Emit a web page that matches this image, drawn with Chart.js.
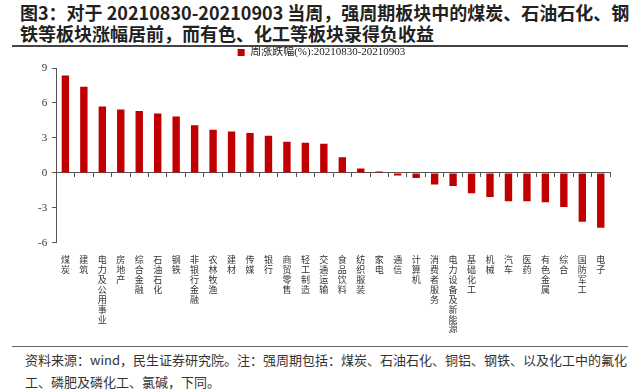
<!DOCTYPE html>
<html>
<head>
<meta charset="utf-8">
<script src="https://cdn.jsdelivr.net/npm/chart.js@4"></script>
<style>
  html, body { margin: 0; padding: 0; background: #fff; }
  body { width: 640px; height: 391px; position: relative; overflow: hidden; font-family: "Noto Sans CJK SC", sans-serif; }
  #title { position: absolute; left: 20px; top: 2px; width: 615px; font-size: 18px; font-weight: bold; line-height: 21px; color: #222; letter-spacing: 0; white-space: nowrap; }
  #topLine { position: absolute; left: 12px; top: 45px; width: 616px; height: 2px; background: #444; }
  #chartBox { position: absolute; left: 0; top: 47px; width: 640px; height: 293px; }
  #bottomLine { position: absolute; left: 12px; top: 346px; width: 616px; height: 1px; background: #666; }
  #note { position: absolute; left: 25px; top: 349px; width: 605px; font-size: 13px; line-height: 22px; color: #333; white-space: nowrap; }
</style>
</head>
<body>
<div id="title">图3：对于 20210830-20210903 当周，强周期板块中的煤炭、石油石化、钢<br>铁等板块涨幅居前，而有色、化工等板块录得负收益</div>
<div id="topLine"></div>
<div id="chartBox"><canvas id="chart"></canvas></div>
<div id="bottomLine"></div>
<div id="note">资料来源：wind，民生证券研究院。注：强周期包括：煤炭、石油石化、铜铝、钢铁、以及化工中的氟化<br>工、磷肥及磷化工、氯碱，下同。</div>
<script>
// sectors, sorted by weekly change
const sectors = ['煤炭', '建筑', '电力及公用事业', '房地产', '综合金融', '石油石化', '钢铁', '非银行金融',
    '农林牧渔', '建材', '传媒', '银行', '商贸零售', '轻工制造', '交通运输', '食品饮料', '纺织服装', '家电',
    '通信', '计算机', '消费者服务', '电力设备及新能源', '基础化工', '机械', '汽车', '医药', '有色金属',
    '综合', '国防军工', '电子'];
// weekly change (%), 20210830-20210903
const weeklyChange = [8.36, 7.39, 5.69, 5.43, 5.32, 5.09, 4.83, 4.08, 3.71, 3.56, 3.42, 3.19, 2.67, 2.59,
    2.50, 1.35, 0.37, 0.12, -0.23, -0.43, -1.00, -1.12, -1.75, -2.07, -2.44, -2.44, -2.53, -2.93, -4.20, -4.71];
const seriesName = '周涨跌幅(%):20210830-20210903';
const yTicks = [9, 6, 3, 0, -3, -6];

// vertical labels: one character per line
const verticalLabels = sectors.map(s => s.split(''));

const axisColor = '#555';
const barColor = '#C00000';

new Chart(document.getElementById('chart'), {
    type: 'bar',
    data: {
        labels: verticalLabels,
        datasets: [{
            label: seriesName,
            data: weeklyChange,
            backgroundColor: barColor,
            borderWidth: 0,
            categoryPercentage: 0.4,
            barPercentage: 1.0,
            xAxisID: 'x'
        }]
    },
    options: {
        responsive: true,
        maintainAspectRatio: false,
        animation: false,
        layout: { padding: { left: 33, right: 30, top: 0, bottom: 2 } },
        plugins: {
            tooltip: { enabled: false },
            legend: {
                position: 'top',
                labels: {
                    boxWidth: 7,
                    boxHeight: 7,
                    padding: 0,
                    color: '#222',
                    font: { family: "'Liberation Serif', 'Noto Sans CJK SC'", size: 11 }
                }
            }
        },
        scales: {
            x: {
                position: 'bottom',
                grid: { display: false },
                border: { display: false },
                ticks: {
                    autoSkip: false,
                    maxRotation: 0,
                    minRotation: 0,
                    padding: 4,
                    color: '#333',
                    font: { family: "'Noto Sans CJK SC'", size: 9, lineHeight: 1.1 }
                }
            },
            x0: {
                type: 'category',
                position: { y: 0 },
                grid: { drawOnChartArea: false, offset: true, drawTicks: true, tickLength: 4, color: axisColor },
                border: { display: true, color: axisColor, width: 1 },
                ticks: { display: false }
            },
            y: {
                min: -6,
                max: 9,
                afterBuildTicks: scale => { scale.ticks = yTicks.map(v => ({ value: v })); },
                grid: { drawOnChartArea: false, drawTicks: true, tickLength: 4, color: axisColor },
                border: { display: true, color: axisColor, width: 1 },
                ticks: {
                    padding: 5,
                    color: '#333',
                    font: { family: "'Liberation Serif'", size: 11, lineHeight: 0.5 }
                }
            }
        }
    }
});
</script>
</body>
</html>
